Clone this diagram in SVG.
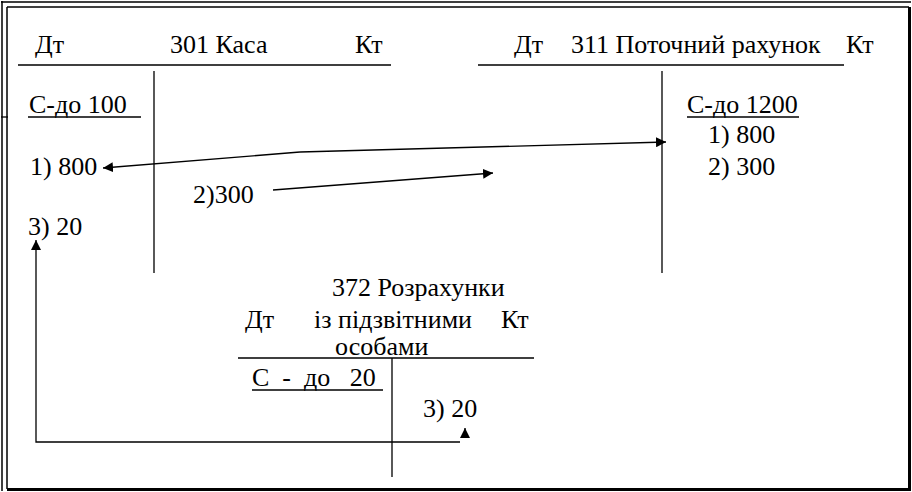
<svg xmlns="http://www.w3.org/2000/svg" width="912" height="492" viewBox="0 0 912 492">
<style>
text{font-family:"Liberation Serif","Times New Roman",serif;font-size:26px;fill:#000}
.l{stroke:#000;stroke-width:1.3;fill:none}
.b{stroke:#000;fill:none}
</style>
<defs>
<marker id="ah" viewBox="0 0 10 10" refX="10" refY="5" markerWidth="10" markerHeight="10" markerUnits="userSpaceOnUse" orient="auto">
<path d="M0,0 L10,5 L0,10 z" fill="#000"/>
</marker>
</defs>
<rect x="0" y="0" width="912" height="492" fill="#fff"/>
<g id="border">
<path class="b" stroke-width="1.5" d="M1,2 H911 M2,1 V491 M7,7 H909 M7,7 V489"/>
<path class="b" stroke-width="3" d="M909.5,7 V491 M7,489.5 H911"/>
<path class="b" stroke-width="1.3" d="M1,117 H8"/>
</g>
<g id="acc301">
<text x="35" y="53">Дт</text>
<text x="170" y="53">301 Каса</text>
<text x="355" y="53">Кт</text>
<path class="l" d="M18,65 H391 M154,71 V273"/>
<text x="29" y="113">С-до 100</text>
<path class="l" stroke-width="1.6" d="M28,117 H141"/>
<text x="30" y="175">1) 800</text>
<text x="28" y="235">3) 20</text>
</g>
<g id="acc311">
<text x="514" y="53">Дт</text>
<text x="571" y="53">311 Поточний рахунок</text>
<text x="846" y="53">Кт</text>
<path class="l" d="M478,65 H844 M662,71 V273"/>
<text x="687" y="113">С-до 1200</text>
<path class="l" stroke-width="1.3" d="M687,117 H799"/>
<text x="708" y="143">1) 800</text>
<text x="708" y="175">2) 300</text>
</g>
<g id="acc372">
<text x="332" y="296">372 Розрахунки</text>
<text x="245" y="328">Дт</text>
<text x="314" y="328">із підзвітними</text>
<text x="501" y="328">Кт</text>
<text x="335" y="355">особами</text>
<path class="l" d="M238,358 H534 M392,358 V477"/>
<text x="252" y="386" xml:space="preserve">С  -  до   20</text>
<path class="l" stroke-width="1.6" d="M252,390 H383"/>
<text x="423" y="417">3) 20</text>
</g>
<g id="label-2">
<text x="193" y="203">2)300</text>
</g>
<g id="connectors">
<path class="l" d="M300,152 L103,168" marker-end="url(#ah)"/>
<path class="l" d="M300,152 L666,142" marker-end="url(#ah)"/>
<path class="l" d="M273,190 L493,173" marker-end="url(#ah)"/>
<path class="l" d="M460,442 H36 V240" marker-end="url(#ah)"/>
<path class="l" d="M465,438 V428" marker-end="url(#ah)"/>
</g>
</svg>
